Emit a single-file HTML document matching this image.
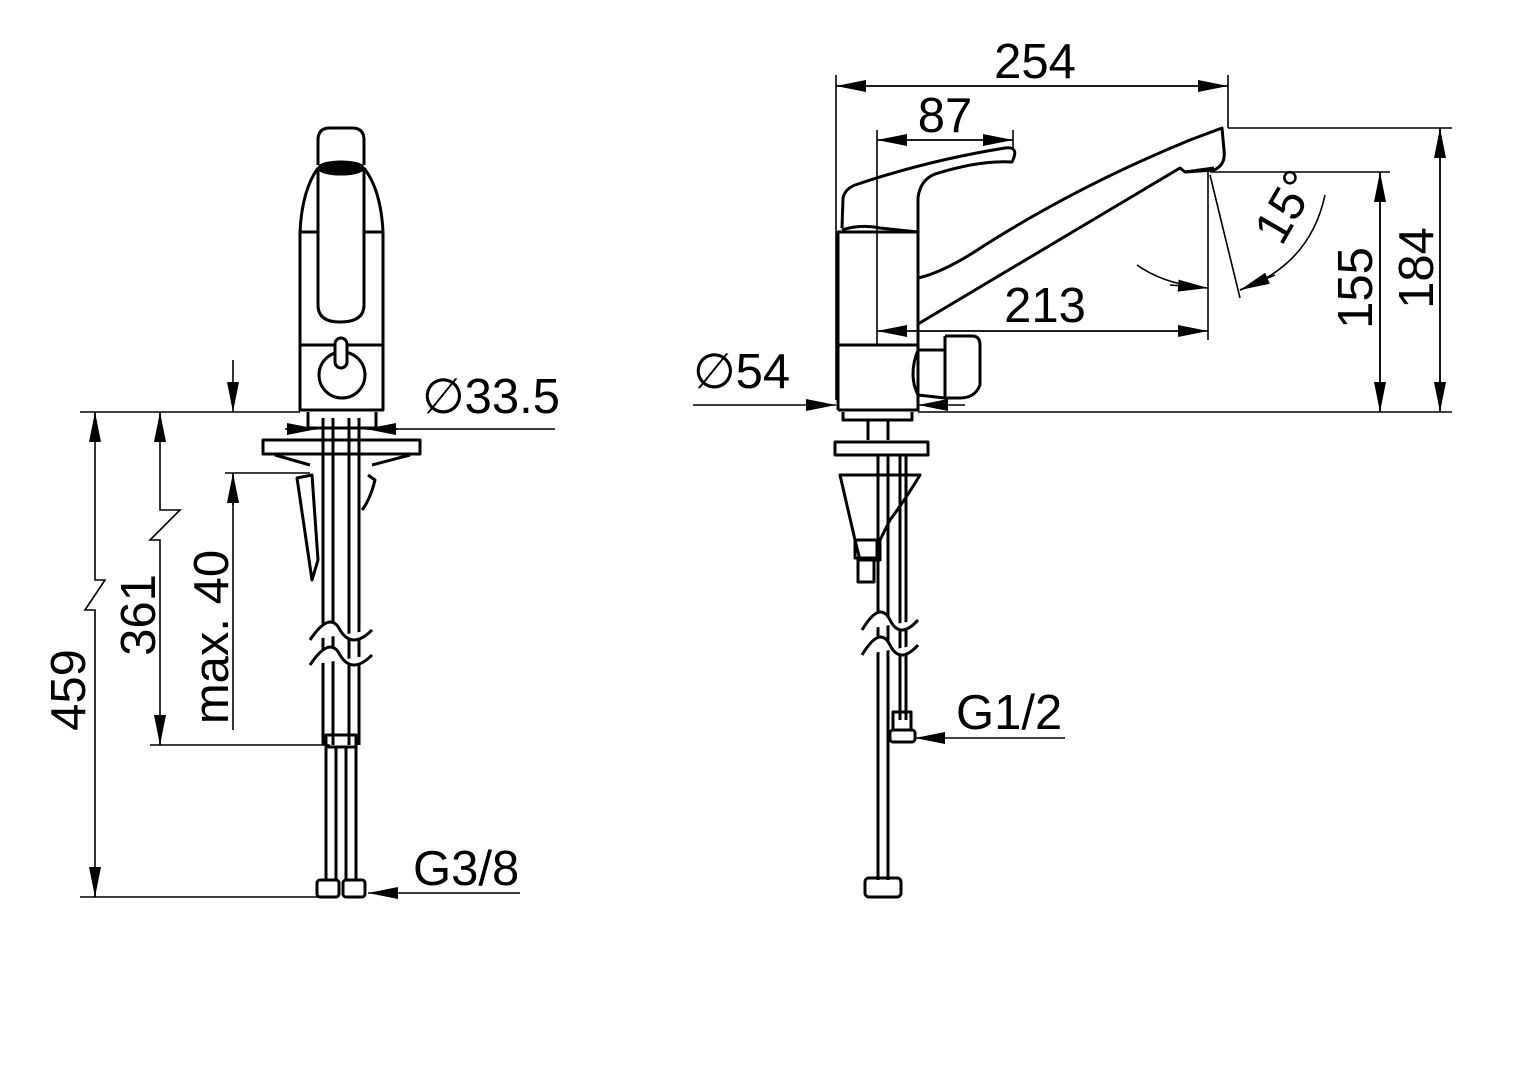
<!DOCTYPE html>
<html><head><meta charset="utf-8"><style>
html,body{margin:0;padding:0;background:#fff;}
svg{display:block;}
text{font-family:"Liberation Sans",sans-serif;font-size:49px;fill:#000;}
</style></head><body>
<svg width="1528" height="1080" viewBox="0 0 1528 1080" xmlns="http://www.w3.org/2000/svg">
<defs>
<marker id="a" viewBox="0 0 30 12" refX="30" refY="6" markerWidth="30" markerHeight="12" markerUnits="userSpaceOnUse" orient="auto"><path d="M0,0 L30,6 L0,12 Z" fill="#000"/></marker>
</defs>
<g fill="none" stroke="#000" stroke-width="1.6">
<!-- LEFT dims -->
<line x1="80" y1="412" x2="300" y2="412"/>
<line x1="80" y1="897" x2="320" y2="897"/>
<line x1="150" y1="745" x2="330" y2="745"/>
<line x1="225" y1="473" x2="310" y2="473"/>
<polyline points="95,412 95,580 105,580 85,610 95,610 95,897" />
<line x1="95" y1="440" x2="95" y2="412" marker-end="url(#a)"/>
<line x1="95" y1="870" x2="95" y2="897" marker-end="url(#a)"/>
<polyline points="160,412 160,510 180,510 150,540 160,540 160,745"/>
<line x1="160" y1="440" x2="160" y2="412" marker-end="url(#a)"/>
<line x1="160" y1="718" x2="160" y2="745" marker-end="url(#a)"/>
<line x1="233" y1="360" x2="233" y2="412" marker-end="url(#a)"/>
<line x1="233" y1="730" x2="233" y2="473" />
<line x1="233" y1="505" x2="233" y2="473" marker-end="url(#a)"/>
<line x1="285" y1="429" x2="317" y2="429" marker-end="url(#a)"/>
<line x1="555" y1="429" x2="366" y2="429"/>
<line x1="398" y1="429" x2="366" y2="429" marker-end="url(#a)"/>
<line x1="520" y1="893" x2="368" y2="893" marker-end="url(#a)"/>
<!-- RIGHT dims -->
<line x1="836" y1="75" x2="836" y2="400"/>
<line x1="1228" y1="75" x2="1228" y2="128"/>
<line x1="836" y1="86" x2="1228" y2="86" marker-end="url(#a)"/>
<line x1="1228" y1="86" x2="836" y2="86" marker-end="url(#a)"/>
<line x1="877" y1="130" x2="877" y2="345"/>
<line x1="1013" y1="130" x2="1013" y2="150"/>
<line x1="877" y1="140" x2="1013" y2="140" marker-end="url(#a)"/>
<line x1="1013" y1="140" x2="877" y2="140" marker-end="url(#a)"/>
<line x1="877" y1="331" x2="1208" y2="331" marker-end="url(#a)"/>
<line x1="1208" y1="331" x2="877" y2="331" marker-end="url(#a)"/>
<line x1="1208" y1="172" x2="1208" y2="340"/>
<line x1="1228" y1="128" x2="1452" y2="128"/>
<line x1="1210" y1="172" x2="1390" y2="172"/>
<line x1="918" y1="412" x2="1452" y2="412"/>
<line x1="1380" y1="172" x2="1380" y2="412" marker-end="url(#a)"/>
<line x1="1380" y1="412" x2="1380" y2="172" marker-end="url(#a)"/>
<line x1="1440" y1="128" x2="1440" y2="412" marker-end="url(#a)"/>
<line x1="1440" y1="412" x2="1440" y2="128" marker-end="url(#a)"/>
<line x1="1210" y1="175" x2="1240" y2="298"/>
<path d="M1137,265 Q1165,285 1208,288"/>
<line x1="1170" y1="285" x2="1208" y2="288" marker-end="url(#a)"/>
<path d="M1240,290 Q1310,265 1325,195"/>
<line x1="1275" y1="275" x2="1240" y2="290" marker-end="url(#a)"/>
<line x1="693" y1="405" x2="836" y2="405" marker-end="url(#a)"/>
<line x1="965" y1="405" x2="918" y2="405" marker-end="url(#a)"/>
<line x1="1065" y1="738" x2="915" y2="738" marker-end="url(#a)"/>
</g>
<g fill="none" stroke="#000" stroke-width="3" stroke-linejoin="round">
<!-- LEFT faucet -->
<path d="M318,165 L318,140 Q318,128 330,128 L352,128 Q364,128 364,140 L364,165"/>
<ellipse cx="341" cy="168" rx="22" ry="6" fill="#000"/>
<path d="M318,168 Q302,190 300,232 L300,410 L383,410 L383,232 Q381,190 364,168"/>
<line x1="300" y1="232" x2="318" y2="232"/><line x1="364" y1="232" x2="383" y2="232"/>
<path d="M318,170 L318,305 Q318,322 340,322 Q364,322 364,305 L364,170"/>
<line x1="300" y1="345" x2="383" y2="345"/>
<circle cx="342" cy="375" r="23"/>
<rect x="335" y="338" width="12" height="30" rx="6" fill="#fff"/>
<rect x="263" y="440" width="157" height="14"/>
<path d="M275,455 L310,465 M410,455 L372,465"/>
<path d="M308,412 L308,428 L376,428 L376,412"/>
<line x1="323" y1="418" x2="323" y2="745"/><line x1="333" y1="418" x2="333" y2="745"/>
<line x1="349" y1="418" x2="349" y2="745"/><line x1="359" y1="418" x2="359" y2="745"/>
<path d="M297,478 L312,475 L318,560 L312,580 Z"/>
<path d="M368,475 L375,480 Q370,500 362,510"/>
<path d="M310,640 Q330,610 340,630 Q352,650 372,630" fill="#fff"/>
<path d="M310,665 Q330,635 340,655 Q352,675 372,655" fill="#fff"/>
<rect x="326" y="735" width="30" height="12"/>
<line x1="326" y1="747" x2="326" y2="880"/><line x1="336" y1="747" x2="336" y2="880"/>
<line x1="346" y1="747" x2="346" y2="880"/><line x1="356" y1="747" x2="356" y2="880"/>
<rect x="317" y="880" width="22" height="17" rx="3"/><rect x="343" y="880" width="22" height="17" rx="3"/>
<!-- RIGHT faucet -->
<path d="M838,410 L838,232 L918,232 L918,345"/>
<!-- lever -->
<path d="M842,228 L843,198 Q845,188 858,184 Q930,160 1005,148 Q1020,146 1012,162 Q980,160 935,174 Q920,180 918,198 L918,278"/>
<path d="M842,230 Q860,224 880,228 L918,232"/>
<!-- spout -->
<path d="M918,278 Q945,272 985,245 Q1080,185 1190,140 L1222,128 L1224,150 Q1226,165 1214,170 L1185,172 L1180,168 L918,324"/>
<path d="M1185,172 L1214,168"/>
<path d="M838,345 L918,345 M838,410 L918,410 L918,345"/>
<path d="M918,350 Q908,375 918,395 L945,398 L945,350 Z"/>
<path d="M945,336 L972,336 Q980,336 980,345 L980,385 Q975,398 960,398 L945,398 L945,336"/>
<path d="M843,412 L843,420 L912,420 L912,412"/>
<line x1="868" y1="420" x2="868" y2="440"/><line x1="888" y1="420" x2="888" y2="440"/>
<rect x="835" y="442" width="93" height="13"/>
<path d="M840,475 L920,475 Q905,500 890,520 L880,540 L880,560 L860,560 L855,540 Z"/>
<rect x="855" y="540" width="22" height="18"/>
<rect x="858" y="558" width="16" height="24"/>
<line x1="878" y1="455" x2="878" y2="880"/><line x1="888" y1="455" x2="888" y2="880"/>
<line x1="900" y1="455" x2="900" y2="720"/><line x1="906" y1="455" x2="906" y2="720"/>
<path d="M862,630 Q880,600 890,620 Q900,640 918,620" fill="#fff"/>
<path d="M862,655 Q880,625 890,645 Q900,665 918,645" fill="#fff"/>
<rect x="893" y="712" width="18" height="18"/>
<rect x="890" y="730" width="25" height="12" rx="3"/>
<rect x="865" y="878" width="36" height="19" rx="4"/>
</g>
<text x="422" y="413">∅33.5</text>
<text x="413" y="885">G3/8</text>
<text transform="translate(85,690) rotate(-90)" text-anchor="middle">459</text>
<text transform="translate(155,615) rotate(-90)" text-anchor="middle">361</text>
<text transform="translate(228,637) rotate(-90)" text-anchor="middle">max. 40</text>
<text x="1035" y="78" text-anchor="middle">254</text>
<text x="945" y="132" text-anchor="middle">87</text>
<text x="1045" y="322" text-anchor="middle">213</text>
<text transform="translate(1372,288) rotate(-90)" text-anchor="middle">155</text>
<text transform="translate(1433,268) rotate(-90)" text-anchor="middle">184</text>
<text transform="translate(1300,215) rotate(-60)" text-anchor="middle">15°</text>
<text x="693" y="388">∅54</text>
<text x="956" y="729">G1/2</text>
</svg>
</body></html>
